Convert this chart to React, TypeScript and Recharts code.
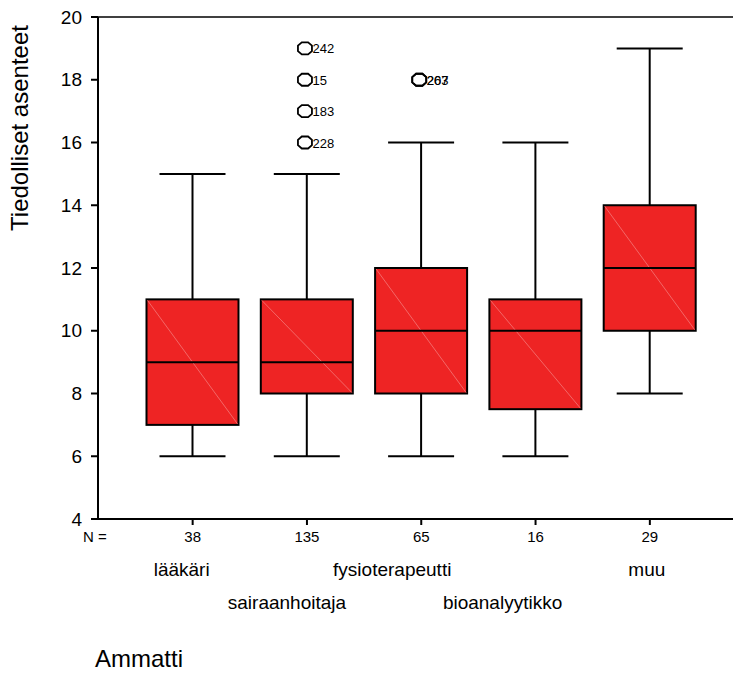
import { ComposedChart, Bar, Scatter, XAxis, YAxis, ReferenceLine } from 'recharts';

const categories = ['lääkäri', 'sairaanhoitaja', 'fysioterapeutti', 'bioanalyytikko', 'muu'];
const counts = [38, 135, 65, 16, 29];
const lowWhisker = [6, 6, 6, 6, 8];
const lowerQuartile = [7, 8, 8, 7.5, 10];
const medians = [9, 9, 10, 10, 12];
const upperQuartile = [11, 11, 12, 11, 14];
const highWhisker = [15, 15, 16, 16, 19];

const outlierGroup = ['sairaanhoitaja', 'sairaanhoitaja', 'sairaanhoitaja', 'sairaanhoitaja', 'fysioterapeutti', 'fysioterapeutti'];
const outlierValue = [19, 18, 17, 16, 18, 18];
const outlierCase = ['242', '15', '183', '228', '207', '263'];

const yTicks = [4, 6, 8, 10, 12, 14, 16, 18, 20];

const FONT = "Arial, 'Liberation Sans', Helvetica, sans-serif";
const BOX_RED = '#EE2424';
// SPSS leaves the category names a bit left of the tick
const labelShift = [-11, -20, -29, -33, -3];

const boxRows = categories.map((name, i) => ({
  name,
  n: counts[i],
  lo: lowWhisker[i],
  q1: lowerQuartile[i],
  med: medians[i],
  q3: upperQuartile[i],
  hi: highWhisker[i],
}));

const outlierRows = outlierValue.map((value, i) => ({
  name: outlierGroup[i],
  value,
  id: outlierCase[i],
}));

function BoxShape(props: any) {
  const { x, y, width, height, payload } = props;
  const top = Math.min(y, y + height);
  const h = Math.abs(height);
  const unit = h / (payload.q3 - payload.q1);
  const toY = (v: number) => top + (payload.q3 - v) * unit;
  const cx = x + width / 2;
  const cap = 33;
  return (
    <g>
      <line x1={cx} x2={cx} y1={toY(payload.hi)} y2={top} stroke="#000" strokeWidth={2} />
      <line x1={cx - cap} x2={cx + cap} y1={toY(payload.hi)} y2={toY(payload.hi)} stroke="#000" strokeWidth={2} />
      <line x1={cx} x2={cx} y1={top + h} y2={toY(payload.lo)} stroke="#000" strokeWidth={2} />
      <line x1={cx - cap} x2={cx + cap} y1={toY(payload.lo)} y2={toY(payload.lo)} stroke="#000" strokeWidth={2} />
      <rect x={x} y={top} width={width} height={h} fill={BOX_RED} stroke="#000" strokeWidth={2} />
      <line x1={x + 1} y1={top + 1} x2={x + width - 1} y2={top + h - 1} stroke="#F47878" strokeWidth={0.8} />
      <line x1={x} x2={x + width} y1={toY(payload.med)} y2={toY(payload.med)} stroke="#000" strokeWidth={2} />
    </g>
  );
}

// outlier marker: small open octagon with the case number beside it
function OutlierShape(props: any) {
  const { cx, cy, payload } = props;
  const ox = cx - 2;
  const rx = 7;
  const ry = 6;
  const k = 0.45;
  const pts = [
    [ox - rx * k, cy - ry], [ox + rx * k, cy - ry], [ox + rx, cy - ry * k], [ox + rx, cy + ry * k],
    [ox + rx * k, cy + ry], [ox - rx * k, cy + ry], [ox - rx, cy + ry * k], [ox - rx, cy - ry * k],
  ].map((p) => p.join(',')).join(' ');
  return (
    <g>
      <polygon points={pts} fill="none" stroke="#000" strokeWidth={1.8} />
      <text x={ox + 7.5} y={cy + 5} fontSize={13} fontFamily={FONT} fill="#000">{payload.id}</text>
    </g>
  );
}

function CategoryTick(props: any) {
  const { x, payload, index } = props;
  const axisY = 519;
  const row = index % 2 === 0 ? 576 : 609;
  return (
    <g fontFamily={FONT} fill="#000">
      <text x={x} y={axisY + 23} textAnchor="middle" fontSize={15}>{counts[index]}</text>
      <text x={x + labelShift[index]} y={row} textAnchor="middle" fontSize={19}>{payload.value}</text>
    </g>
  );
}

function XTitle(props: any) {
  const vb = props.viewBox || { x: 98, y: 519, height: 155 };
  return (
    <g fontFamily={FONT} fill="#000">
      <text x={vb.x - 15} y={vb.y + 23} fontSize={15}>N =</text>
      <text x={vb.x - 3} y={vb.y + vb.height - 7} fontSize={24}>Ammatti</text>
    </g>
  );
}

function YTitle() {
  return (
    <text
      x={28}
      y={128}
      transform="rotate(-90, 28, 128)"
      textAnchor="middle"
      fontSize={24}
      fontFamily={FONT}
      fill="#000"
    >
      Tiedolliset asenteet
    </text>
  );
}

export default function App() {
  return (
    <div style={{ position: 'absolute', left: 0, top: 0, width: 733, height: 674, background: '#fff' }}>
      <ComposedChart
        width={733}
        height={674}
        data={boxRows}
        margin={{ top: 17, right: 0, bottom: 0, left: 0 }}
      >
        <XAxis
          dataKey="name"
          type="category"
          allowDuplicatedCategory={false}
          height={155}
          padding={{ left: 37.5, right: 26 }}
          axisLine={{ stroke: '#000', strokeWidth: 2 }}
          tickLine={{ stroke: '#000', strokeWidth: 2 }}
          tickSize={6}
          tick={<CategoryTick />}
          interval={0}
          label={<XTitle />}
        />
        <YAxis
          type="number"
          domain={[4, 20]}
          ticks={yTicks}
          width={98}
          tickSize={7}
          tickMargin={9}
          axisLine={{ stroke: '#000', strokeWidth: 2 }}
          tickLine={{ stroke: '#000', strokeWidth: 2 }}
          tick={{ fill: '#000', fontSize: 19, fontFamily: FONT }}
          label={<YTitle />}
        />
        <ReferenceLine y={20} stroke="#000" strokeWidth={1.6} />
        <Bar
          dataKey={(d: any) => [d.q1, d.q3]}
          barSize={92}
          shape={<BoxShape />}
          isAnimationActive={false}
        />
        <Scatter
          data={outlierRows}
          dataKey="value"
          shape={<OutlierShape />}
          isAnimationActive={false}
        />
      </ComposedChart>
    </div>
  );
}
